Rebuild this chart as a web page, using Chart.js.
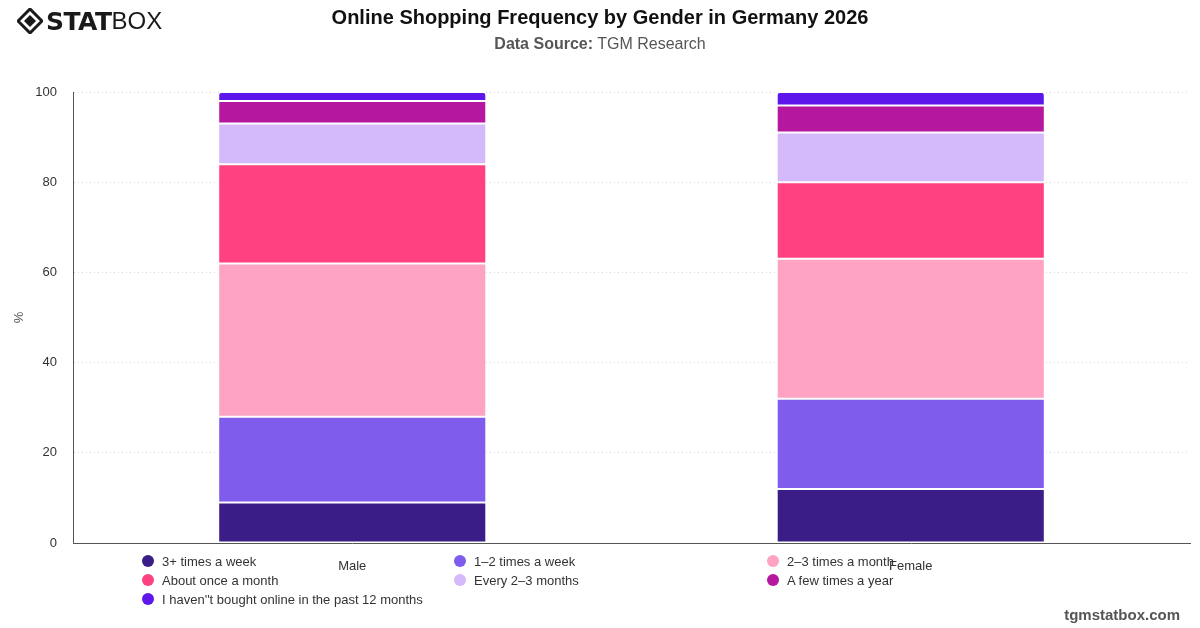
<!DOCTYPE html>
<html>
<head>
<meta charset="utf-8">
<script src="https://cdn.jsdelivr.net/npm/chart.js@4.4.1/dist/chart.umd.min.js"></script>
<style>
  html, body { margin: 0; padding: 0; background: #fff; }
  body { width: 1200px; height: 628px; position: relative; overflow: hidden; font-family: "Liberation Sans", Arial, sans-serif; }
  #wrap { position: absolute; left: 0; top: 0; width: 1200px; height: 628px; }
  #title { position: absolute; left: 0; width: 1200px; top: 6px; text-align: center; font-size: 20px; font-weight: bold; color: #111; }
  #subtitle { position: absolute; left: 0; width: 1200px; top: 35px; text-align: center; font-size: 16px; color: #555; }
  #subtitle b { font-weight: bold; }
  #logo { position: absolute; left: 17px; top: 7px; height: 28px; display: flex; align-items: center; }
  #logo .t1 { font-size: 25px; font-weight: 900; letter-spacing: -0.5px; color: #1a1a1a; margin-left: 3px; font-family: "DejaVu Sans", sans-serif; }
  #logo .t2 { font-size: 24px; font-weight: 300; color: #1a1a1a; font-family: "Liberation Sans", sans-serif; }
  #footer { position: absolute; right: 20px; top: 606px; font-size: 15px; font-weight: bold; color: #555; }
  #legend { position: absolute; left: 142px; top: 552px; display: grid; grid-template-columns: 312px 313px 312px; row-gap: 1px; font-size: 13px; color: #333; }
  #legend .item { display: flex; align-items: center; height: 18px; white-space: nowrap; }
  #legend .dot { width: 12px; height: 12px; border-radius: 50%; margin-right: 8px; flex: none; }
</style>
</head>
<body>
<div id="wrap"><canvas id="c" width="1200" height="628"></canvas></div>
<div id="logo">
  <svg width="26" height="26" viewBox="0 0 26 26">
    <polygon points="13,1 25,13 13,25 1,13" fill="none" stroke="#1a1a1a" stroke-width="3"/>
    <polygon points="13,7 19,13 13,19 7,13" fill="#1a1a1a"/>
  </svg>
  <span class="t1">STAT</span><span class="t2">BOX</span>
</div>
<div id="title">Online Shopping Frequency by Gender in Germany 2026</div>
<div id="subtitle"><b>Data Source:</b> TGM Research</div>
<div id="legend"></div>
<div id="footer">tgmstatbox.com</div>
<script>
const categories = ["Male", "Female"];
const seriesNames = [
  "3+ times a week",
  "1\u20132 times a week",
  "2\u20133 times a month",
  "About once a month",
  "Every 2\u20133 months",
  "A few times a year",
  "I haven''t bought online in the past 12 months"
];
const threePlusWeek = [9, 12];
const oneTwoWeek = [19, 20];
const twoThreeMonth = [34, 31];
const onceMonth = [22, 17];
const everyTwoThreeMonths = [9, 11];
const fewTimesYear = [5, 6];
const notBought = [2, 3];
const yTicks = [0, 20, 40, 60, 80, 100];
const colors = ["#3b1d87", "#7f5cec", "#ffa3c4", "#ff4081", "#d4bafb", "#b5179e", "#5e17eb"];

const seriesValues = [threePlusWeek, oneTwoWeek, twoThreeMonth, onceMonth, everyTwoThreeMonths, fewTimesYear, notBought];

const datasets = seriesValues.map((vals, i) => ({
  label: seriesNames[i],
  data: vals,
  backgroundColor: colors[i],
  borderColor: "rgba(255,255,255,0.75)",
  borderWidth: 1,
  borderSkipped: false,
  borderRadius: i === seriesValues.length - 1 ? {topLeft: 3, topRight: 3, bottomLeft: 0, bottomRight: 0} : 0,
  barPercentage: 0.8,
  categoryPercentage: 0.6
}));

// HTML legend
const leg = document.getElementById("legend");
seriesNames.forEach((n, i) => {
  const d = document.createElement("div");
  d.className = "item";
  d.innerHTML = '<span class="dot" style="background:' + colors[i] + '"></span><span></span>';
  d.lastChild.textContent = n;
  leg.appendChild(d);
});

const fontFamily = '"Liberation Sans", Arial, sans-serif';
new Chart(document.getElementById("c"), {
  type: "bar",
  data: { labels: categories, datasets },
  options: {
    responsive: false,
    animation: false,
    devicePixelRatio: 1,
    layout: { padding: { top: 92, right: 10, left: 0, bottom: 0 } },
    plugins: { legend: { display: false }, title: { display: false }, tooltip: { enabled: false } },
    scales: {
      x: {
        stacked: true,
        grid: { display: false, drawTicks: false },
        border: { display: true, color: "#555", width: 1 },
        ticks: { padding: 16, color: "#333", font: { family: fontFamily, size: 13 } },
        afterFit: s => { s.height = 85; }
      },
      y: {
        stacked: true,
        min: 0, max: 100,
        afterBuildTicks: s => { s.ticks = yTicks.map(v => ({ value: v })); },
        grid: { color: "#d8d8d8", drawTicks: false },
        border: { display: true, color: "#555", width: 1, dash: [1, 3] },
        ticks: { padding: 16, color: "#333", font: { family: fontFamily, size: 13 } },
        title: { display: true, text: "%", color: "#555", font: { family: fontFamily, size: 13 }, padding: { top: 12, bottom: 0 } },
        afterFit: s => { s.width = 73; }
      }
    }
  }
});
</script>
</body>
</html>
